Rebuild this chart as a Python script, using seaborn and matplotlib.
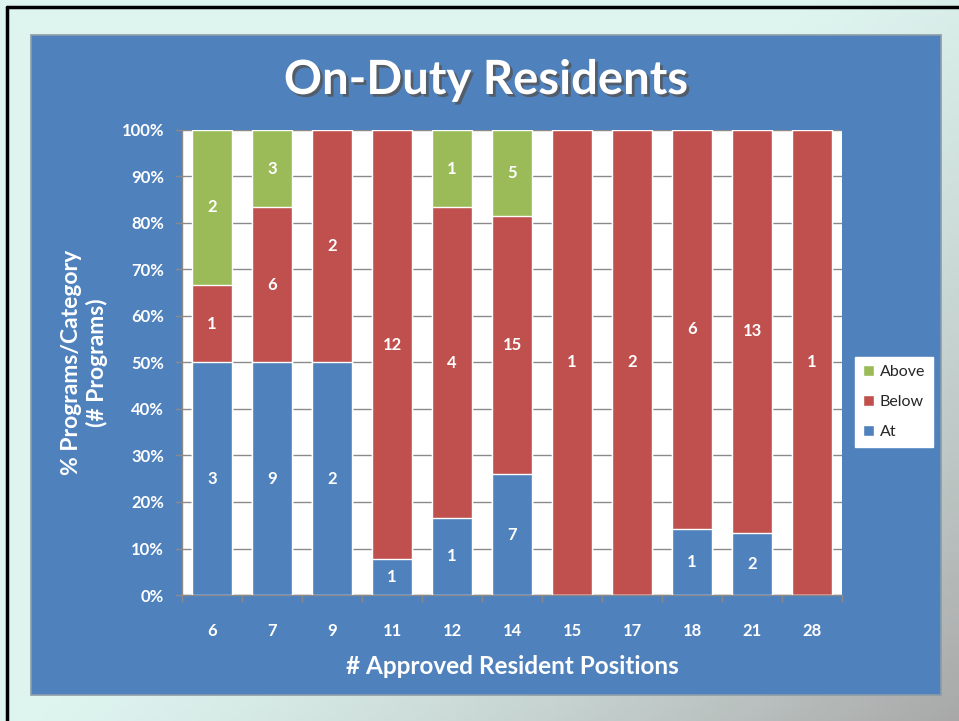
import numpy as np
import pandas as pd
import matplotlib
matplotlib.use("Agg")
import matplotlib.pyplot as plt
import matplotlib.patheffects as pe
from matplotlib.ticker import PercentFormatter, FixedLocator
import seaborn as sns

# data (program counts per category)
positions = ["6", "7", "9", "11", "12", "14", "15", "17", "18", "21", "28"]
at_counts = [3, 9, 2, 1, 1, 7, 0, 0, 1, 2, 0]
below_counts = [1, 6, 2, 12, 4, 15, 1, 2, 6, 13, 1]
above_counts = [2, 3, 0, 0, 1, 5, 0, 0, 0, 0, 0]

c_at = "#4F81BD"
c_below = "#C0504D"
c_above = "#9BBB59"
panel_blue = "#4F81BD"

df = pd.DataFrame({"pos": positions, "At": at_counts, "Below": below_counts, "Above": above_counts})
df["total"] = df[["At", "Below", "Above"]].sum(axis=1)
df["p_at"] = df["At"] / df["total"]
df["p_below"] = df["Below"] / df["total"]
df["p_above"] = df["Above"] / df["total"]
df["cum_below"] = df["p_at"] + df["p_below"]
df["cum_above"] = df["cum_below"] + df["p_above"]

sns.set_theme(style="white")
plt.rcParams["font.family"] = ["Lato", "DejaVu Sans"]

fig = plt.figure(figsize=(9.59, 7.21), dpi=100)

# slide background gradient (light cyan -> grey towards bottom right)
bg = fig.add_axes([0, 0, 1, 1], zorder=-10)
gx, gy = np.meshgrid(np.linspace(0, 1, 200), np.linspace(0, 1, 200))
t = np.clip((gx * 0.55 + gy * 0.45 - 0.45) / 0.55, 0, 1) ** 1.4
c0 = np.array([0.87, 0.96, 0.94])
c1 = np.array([0.66, 0.66, 0.66])
img = c0[None, None, :] * (1 - t[..., None]) + c1[None, None, :] * t[..., None]
bg.imshow(img, aspect="auto", extent=[0, 1, 0, 1], origin="upper")
bg.set_xlim(0, 1)
bg.set_ylim(0, 1)
bg.axis("off")

# black frame lines (top and left)
fig.add_artist(plt.Line2D([7 / 959, 1], [1 - 7 / 721, 1 - 7 / 721], color="black", lw=2.5, transform=fig.transFigure))
fig.add_artist(plt.Line2D([7 / 959, 7 / 959], [0, 1 - 7 / 721], color="black", lw=2.5, transform=fig.transFigure))

# blue chart panel
fig.add_artist(plt.Rectangle((31 / 959, 26 / 721), 910 / 959, 660 / 721, transform=fig.transFigure,
                             facecolor=panel_blue, edgecolor="#8C9CA8", lw=1.2, zorder=-5))

ax = fig.add_axes([182 / 959, 126 / 721, 660 / 959, 465 / 721])
ax.set_facecolor("white")

sns.barplot(data=df, x="pos", y="cum_above", color=c_above, width=0.67, saturation=1, ax=ax, label="Above", zorder=3)
sns.barplot(data=df, x="pos", y="cum_below", color=c_below, width=0.67, saturation=1, ax=ax, label="Below", zorder=3)
sns.barplot(data=df, x="pos", y="p_at", color=c_at, width=0.67, saturation=1, ax=ax, label="At", zorder=3)

# counts inside segments
for i, row in df.iterrows():
    segs = [(row["At"], 0, row["p_at"]), (row["Below"], row["p_at"], row["cum_below"]),
            (row["Above"], row["cum_below"], row["cum_above"])]
    for n, lo, hi in segs:
        if n > 0:
            ax.text(i, (lo + hi) / 2, str(int(n)), color="white", fontsize=12, fontweight="bold",
                    ha="center", va="center", zorder=5)

ax.set_ylim(0, 1)
ax.set_xlim(-0.5, len(positions) - 0.5)
ax.yaxis.set_major_locator(FixedLocator(np.linspace(0, 1, 11)))
ax.yaxis.set_major_formatter(PercentFormatter(1.0, decimals=0))
ax.grid(axis="y", color="#8A8A8A", lw=1, zorder=0)
ax.set_axisbelow(True)
for s in ["top", "right"]:
    ax.spines[s].set_visible(False)
for s in ["left", "bottom"]:
    ax.spines[s].set_color("#8A8A8A")
    ax.spines[s].set_linewidth(1)

ax.tick_params(axis="y", colors="#8A8A8A", length=5, width=1, left=True, labelcolor="white", labelsize=12, pad=8)
ax.tick_params(axis="x", length=0, labelcolor="white", labelsize=12, pad=20)
ax.set_xticks(np.arange(-0.5, len(positions), 1), minor=True)
ax.tick_params(axis="x", which="minor", bottom=True, length=5, width=1, color="#8A8A8A")
for lbl in ax.get_xticklabels() + ax.get_yticklabels():
    lbl.set_fontweight("bold")

ax.set_xlabel("# Approved Resident Positions", color="white", fontsize=17.5, fontweight="bold", labelpad=12)
ax.set_ylabel("% Programs/Category\n(# Programs)", color="white", fontsize=16.5, fontweight="bold", labelpad=10)

ax.legend(loc="center left", bbox_to_anchor=(1.02, 0.415), frameon=True, fancybox=False, facecolor="white",
          edgecolor="white", framealpha=1, fontsize=11.5, handlelength=0.7, handleheight=0.7, labelspacing=1.0,
          borderpad=0.5, handletextpad=0.35, borderaxespad=0)

fig.text(486 / 959, 1 - 80 / 721, "On-Duty Residents", color="white", fontsize=34, fontweight="bold",
         ha="center", va="center",
         path_effects=[pe.withSimplePatchShadow(offset=(2, -2), shadow_rgbFace="#555555", alpha=0.8)])

fig.savefig("out.png", dpi=100)
